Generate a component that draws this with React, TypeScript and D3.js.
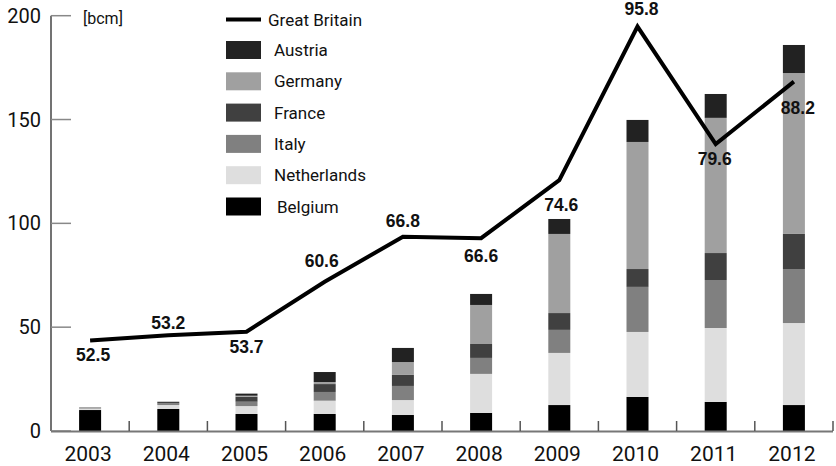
import React from 'react';
import * as d3 from 'd3';

// values in bcm
const years = ['2003', '2004', '2005', '2006', '2007', '2008', '2009', '2010', '2011', '2012'];
const belgium = [10.1, 10.6, 8.2, 8.2, 7.7, 8.7, 12.5, 16.4, 14.0, 12.5];
const netherlands = [0.7, 1.9, 3.8, 6.4, 7.2, 18.8, 25.1, 31.3, 35.6, 39.5];
const italy = [0.6, 0.8, 2.1, 4.2, 6.8, 7.7, 11.1, 21.7, 23.1, 26.0];
const france = [0, 0.8, 2.4, 3.8, 5.3, 6.7, 8.1, 8.6, 13.0, 16.9];
const germany = [0, 0, 0.5, 1.0, 6.2, 18.8, 38.1, 61.2, 65.1, 77.5];
const austria = [0, 0, 1.0, 4.8, 6.8, 5.3, 7.2, 10.6, 11.5, 13.5];
const greatBritain = [52.5, 53.2, 53.7, 60.6, 66.8, 66.6, 74.6, 95.8, 79.6, 88.2];
const yTicks = [0, 50, 100, 150, 200];

// stacking order, bottom to top
const seriesKeys = ['Belgium', 'Netherlands', 'Italy', 'France', 'Germany', 'Austria'];
const seriesValues = [belgium, netherlands, italy, france, germany, austria];
const colors: Record<string, string> = {
  Belgium: '#000000',
  Netherlands: '#dedede',
  Italy: '#808080',
  France: '#404040',
  Germany: '#a0a0a0',
  Austria: '#222222',
};
const legendOrder = ['Austria', 'Germany', 'France', 'Italy', 'Netherlands', 'Belgium'];

// vertical offset of each GB value label from its point (baseline)
const labelDy = [21, -6, 21.5, -14.5, -10, 24, 31, -11.5, 21, 32];
const labelDx = [3, 0, 0, -3, 0, 0, 2, 4, -1, 4];

const W = 836;
const H = 466;
const left = 51;
const right = 833;
const top = 15.7;
const bottom = 431;

const App: React.FC = () => {
  const x = d3.scaleBand<string>().domain(years).range([left, right]).paddingInner(0).paddingOuter(0);
  const y = d3.scaleLinear().domain([0, 200]).range([bottom, top]);
  // Great Britain runs on its own (unlabelled) scale
  const y2 = d3.scaleLinear().domain([40, 97.3]).range([bottom, top]);

  const table = years.map((yr, i) => {
    const row: Record<string, number | string> = { year: yr };
    seriesKeys.forEach((k, j) => (row[k] = seriesValues[j][i]));
    return row;
  });
  const stacked = d3.stack<Record<string, number | string>>().keys(seriesKeys)(table as any);

  const barW = 22;
  const cx = (yr: string) => (x(yr) || 0) + x.bandwidth() / 2;

  const line = d3
    .line<number>()
    .x((_, i) => cx(years[i]))
    .y(d => y2(d));

  const font = 'Roboto, "Liberation Sans", sans-serif';
  const boldFont = '"Liberation Sans", Arial, sans-serif';

  return (
    <svg width={W} height={H} style={{ position: 'absolute', left: 0, top: 0, background: '#fff' }}>
      {/* bars */}
      {stacked.map(s => (
        <g key={s.key} fill={colors[s.key]}>
          {s.map((d, i) =>
            d[1] - d[0] > 0 ? (
              <rect
                key={i}
                x={cx(years[i]) - barW / 2}
                y={y(d[1])}
                width={barW}
                height={y(d[0]) - y(d[1])}
              />
            ) : null
          )}
        </g>
      ))}

      {/* y axis */}
      <line x1={left} x2={left} y1={top} y2={bottom} stroke="#444" strokeWidth={1.5} />
      {yTicks.map(t => (
        <g key={t}>
          <line x1={left} x2={left + 20} y1={y(t)} y2={y(t)} stroke="#888" strokeWidth={1.5} />
          <text x={41} y={y(t) + 7} textAnchor="end" fontFamily={font} fontSize={20} fill="#111">
            {t}
          </text>
        </g>
      ))}
      <text x={83} y={24} fontFamily={font} fontSize={16} fill="#111">[bcm]</text>

      {/* x axis */}
      <line x1={left} x2={right} y1={bottom + 0.5} y2={bottom + 0.5} stroke="#777" strokeWidth={2} />
      {years.map((yr, i) => (
        <g key={yr}>
          {i > 0 && (
            <line x1={x(yr)} x2={x(yr)} y1={bottom} y2={bottom - 10} stroke="#555" strokeWidth={1.5} />
          )}
          <text x={cx(yr) - 2} y={461} textAnchor="middle" fontFamily={font} fontSize={21} fill="#111">
            {yr}
          </text>
        </g>
      ))}
      <line x1={right} x2={right} y1={bottom} y2={bottom - 10} stroke="#555" strokeWidth={1.5} />

      {/* Great Britain line */}
      <path d={line(greatBritain) || ''} fill="none" stroke="#000" strokeWidth={4} strokeLinejoin="miter" />
      {greatBritain.map((v, i) => (
        <text
          key={i}
          x={cx(years[i]) + labelDx[i]}
          y={y2(v) + labelDy[i]}
          textAnchor="middle"
          fontFamily={boldFont}
          fontWeight="bold"
          fontSize={17.5}
          fill="#111"
        >
          {v.toFixed(1)}
        </text>
      ))}

      {/* legend */}
      <line x1={226} x2={261} y1={19.5} y2={19.5} stroke="#000" strokeWidth={4} />
      <text x={268} y={25.5} fontFamily={font} fontSize={17} fill="#111">Great Britain</text>
      {legendOrder.map((k, i) => {
        const cy = 50 + i * 31.3;
        return (
          <g key={k}>
            <rect x={226} y={cy - 9} width={35} height={18} fill={colors[k]} />
            <text x={k === 'Belgium' ? 277 : 274} y={cy + 6} fontFamily={font} fontSize={17} fill="#111">
              {k}
            </text>
          </g>
        );
      })}
    </svg>
  );
};

export default App;
